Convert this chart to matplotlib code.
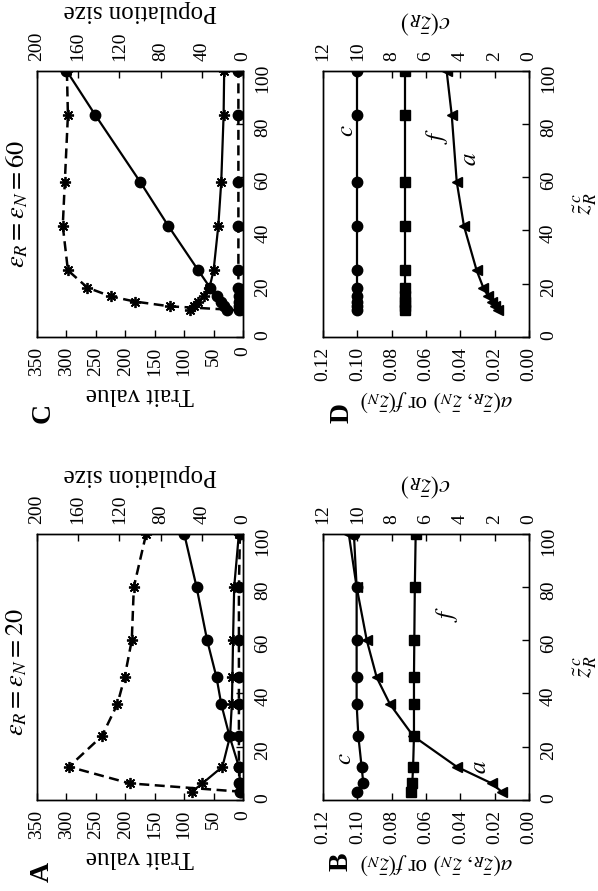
import matplotlib
matplotlib.use("Agg")
import matplotlib.pyplot as plt
from matplotlib.ticker import FormatStrFormatter

plt.rcParams.update({
    "font.family": "serif",
    "font.serif": ["Liberation Serif", "DejaVu Serif"],
    "mathtext.fontset": "stix",
    "axes.linewidth": 1.0,
})

# eps_R = eps_N = 20
z_20 = [3.1, 6.25, 12.5, 24, 36, 46, 60, 80, 100]
trait_circ_20 = [4, 5, 7, 23, 37, 45, 61, 79, 100]
trait_star_20 = [87, 69, 35, 22, 19, 18, 17, 15, 7]
pop_circ_20 = [3, 3.5, 4, 4, 4, 4, 4, 4, 3]
pop_star_20 = [1, 110, 169, 137, 122, 115, 108, 106, 94]
a_20 = [0.0159, 0.0217, 0.0421, 0.0674, 0.081, 0.0887, 0.0945, 0.1004, 0.105]
f_20 = [0.0685, 0.068, 0.0675, 0.067, 0.067, 0.067, 0.0668, 0.0665, 0.066]
c_20 = [10.04, 9.65, 9.75, 9.94, 10.04, 10.04, 10.04, 10.04, 10.2]

# eps_R = eps_N = 60
z_60 = [10, 11.5, 13.3, 15.2, 18.5, 25, 41.7, 58.3, 83.3, 100]
trait_circ_60 = [27, 32, 38, 45, 56, 76, 127, 175, 251, 300]
trait_star_60 = [90, 84, 76, 67, 57, 50, 42, 37, 33, 32]
pop_circ_60 = [4, 4, 4, 4, 4.5, 4.5, 4.5, 4.5, 4.5, 4.5]
pop_star_60 = [2, 71, 105, 128, 151, 170, 175, 173, 170, 171]
a_60 = [0.0179, 0.0198, 0.0217, 0.0237, 0.0266, 0.0305, 0.0379, 0.0421, 0.045, 0.048]
f_60 = [0.0722] * 10
c_60 = [10.04] * 10

trait_ticks = [0, 50, 100, 150, 200, 250, 300, 350]
pop_ticks = [0, 40, 80, 120, 160, 200]
z_ticks = [0, 20, 40, 60, 80, 100]
af_ticks = [0.00, 0.02, 0.04, 0.06, 0.08, 0.10, 0.12]
c_ticks = [0, 2, 4, 6, 8, 10, 12]

TICK = 14
LABEL = 18
STAR = (8, 2, 0)
DASH = (0, (4, 2.2))


def style_axes(ax, top):
    ax.set_ylim(0, 100)
    ax.set_yticks(z_ticks)
    ax.yaxis.tick_right()
    ax.tick_params(axis="both", direction="in", length=5, width=1.0,
                   labelsize=TICK, pad=7)
    ax.tick_params(axis="x", labelrotation=90)
    ax.tick_params(axis="y", labelrotation=90, pad=8)
    top.tick_params(axis="x", direction="in", length=5, width=1.0,
                    labelsize=TICK, labelrotation=90, pad=7)


def trait_panel(ax, z, tc, ts, pc, ps):
    top = ax.twiny()
    ax.plot(tc, z, "-", color="black", lw=1.6, marker="o", ms=7.5)
    ax.plot(ts, z, "-", color="black", lw=1.6, marker=STAR, ms=8, mew=1.3)
    top.plot(pc, z, color="black", lw=1.8, ls=DASH, marker="o", ms=7.5)
    top.plot(ps, z, color="black", lw=1.8, ls=DASH, marker=STAR, ms=8, mew=1.3)
    ax.set_xlim(350, 0)
    ax.set_xticks(trait_ticks)
    top.set_xlim(200, 0)
    top.set_xticks(pop_ticks)
    style_axes(ax, top)
    ax.set_xlabel("Trait value", fontsize=LABEL, rotation=180, labelpad=5)
    top.set_xlabel("Population size", fontsize=LABEL, rotation=180, labelpad=10)
    return top


def rate_panel(ax, z, a, f, c, labels):
    top = ax.twiny()
    ax.plot(a, z, "-", color="black", lw=1.6, marker="<", ms=7.5)
    ax.plot(f, z, "-", color="black", lw=1.6, marker="s", ms=7)
    top.plot(c, z, "-", color="black", lw=1.6, marker="o", ms=7.5)
    ax.set_xlim(0.12, 0)
    ax.set_xticks(af_ticks)
    ax.xaxis.set_major_formatter(FormatStrFormatter("%.2f"))
    top.set_xlim(12, 0)
    top.set_xticks(c_ticks)
    style_axes(ax, top)
    ax.set_xlabel(r"$a(\bar{z}_R,\,\bar{z}_N)$ or $f(\bar{z}_N)$",
                  fontsize=16.5, rotation=180, labelpad=5)
    ax.xaxis.label.set_x(0.55)
    top.set_xlabel(r"$c(\bar{z}_R)$", fontsize=LABEL, rotation=180, labelpad=9)
    ax.text(1.272, 0.5, r"$\tilde{z}_R^{\,c}$", transform=ax.transAxes,
            fontsize=LABEL, rotation=90, ha="center", va="center")
    for name, (xv, zv) in labels.items():
        ax.text(xv, zv, "$%s$" % name, fontsize=18, rotation=90,
                ha="center", va="center")
    return top


fig = plt.figure(figsize=(5.98, 8.91), dpi=100)
ax_a = fig.add_axes([0.0619, 0.1021, 0.3445, 0.2990])
ax_c = fig.add_axes([0.0619, 0.6218, 0.3445, 0.2990])
ax_b = fig.add_axes([0.5401, 0.1021, 0.3445, 0.2990])
ax_d = fig.add_axes([0.5401, 0.6218, 0.3445, 0.2990])

trait_panel(ax_a, z_20, trait_circ_20, trait_star_20, pop_circ_20, pop_star_20)
trait_panel(ax_c, z_60, trait_circ_60, trait_star_60, pop_circ_60, pop_star_60)
rate_panel(ax_b, z_20, a_20, f_20, c_20,
           {"c": (0.107, 15.7), "f": (0.048, 70), "a": (0.0285, 12.4)})
rate_panel(ax_d, z_60, a_60, f_60, c_60,
           {"c": (0.106, 77.5), "f": (0.0538, 75.6), "a": (0.0344, 66.8)})

fig.text(17 / 598, 1 - 672 / 891, r"$\varepsilon_R = \varepsilon_N = 20$",
         fontsize=19, rotation=90, ha="center", va="center")
fig.text(17 / 598, 1 - 204 / 891, r"$\varepsilon_R = \varepsilon_N = 60$",
         fontsize=19, rotation=90, ha="center", va="center")

for letter, (x, y) in {"A": (42, 872), "B": (341, 862),
                       "C": (43, 413), "D": (342, 413)}.items():
    fig.text(x / 598, 1 - y / 891, letter, fontsize=20, fontweight="bold",
             rotation=90, ha="center", va="center")

fig.savefig("out.png", dpi=100)
